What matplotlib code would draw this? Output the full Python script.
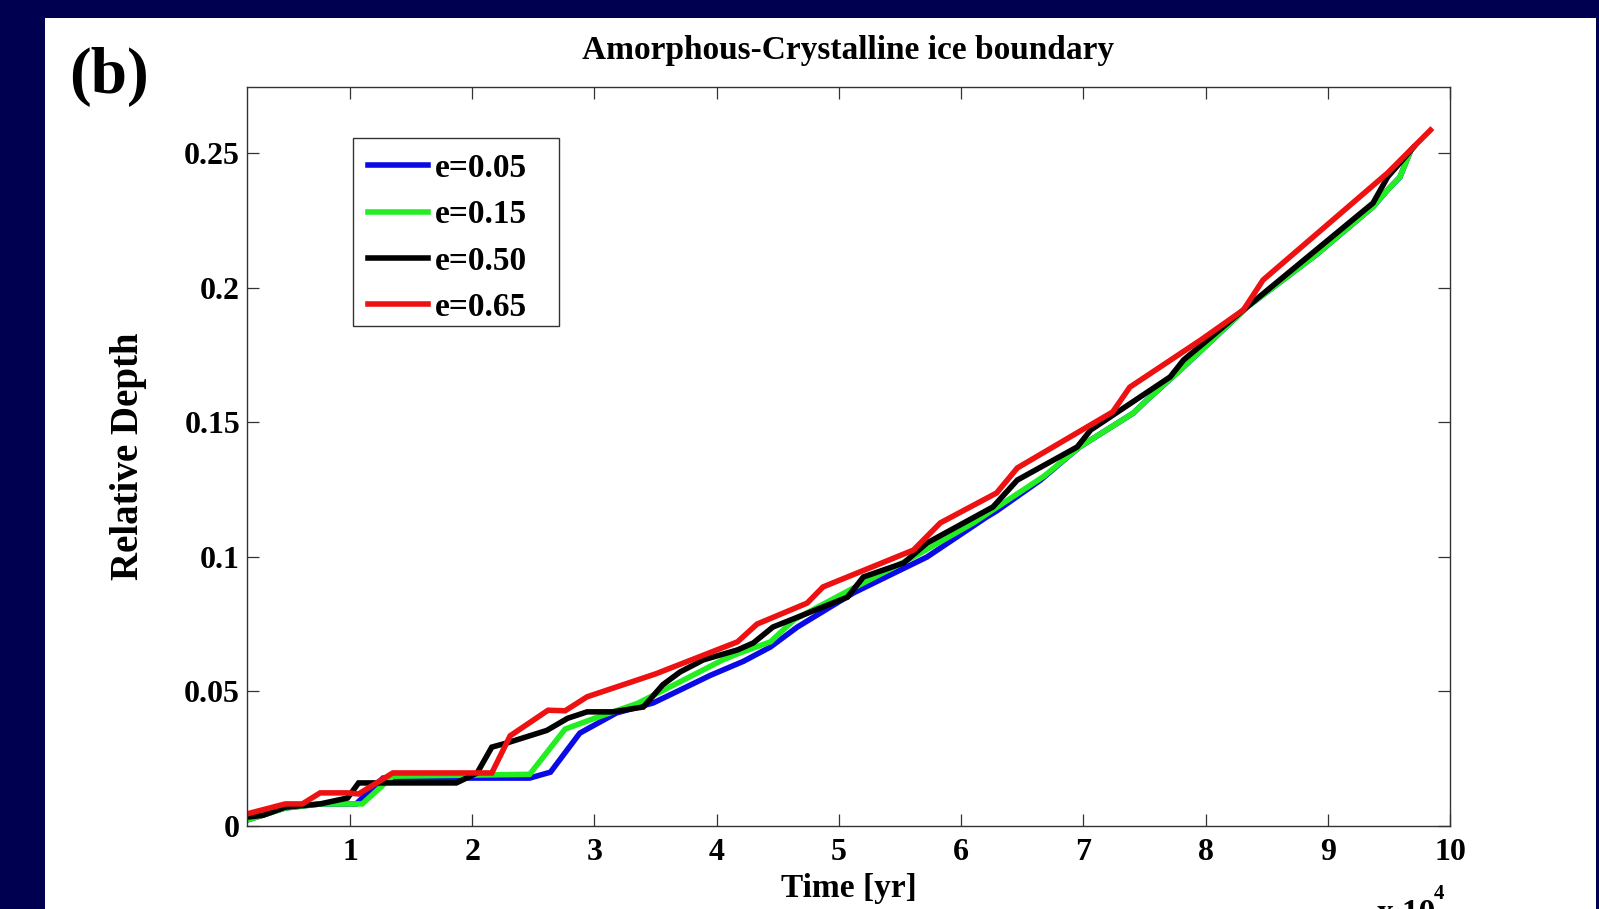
import matplotlib
matplotlib.use("Agg")
import matplotlib.pyplot as plt
from matplotlib.patches import Rectangle

plt.rcParams['font.family'] = ['Liberation Serif', 'DejaVu Serif']
plt.rcParams['font.weight'] = 'bold'

# Time in units of 10^4 yr, relative depth
blue_x = [0.157, 0.47, 0.76, 1.05, 1.27, 2.47, 2.64, 2.88, 3.18, 3.48, 3.70, 3.95, 4.22, 4.44,
          4.66, 5.12, 5.72, 6.21, 6.29, 6.65, 6.87, 6.97, 7.41, 7.52, 7.82, 8.23, 8.34, 8.9,
          9.37, 9.49, 9.59, 9.67]
blue_y = [0.0022, 0.0067, 0.0082, 0.0082, 0.0178, 0.0178, 0.0200, 0.0345, 0.0420, 0.0457, 0.0505,
          0.0560, 0.0612, 0.0665, 0.0739, 0.0866, 0.0999, 0.1148, 0.1170, 0.1285, 0.1370, 0.1408,
          0.1534, 0.1582, 0.1705, 0.1880, 0.1928, 0.2120, 0.2300, 0.2363, 0.2410, 0.2500]

green_x = [0.157, 0.47, 0.76, 1.10, 1.35, 2.47, 2.76, 3.00, 3.35, 3.68, 4.05, 4.19, 4.44, 4.63,
           5.09, 5.61, 6.10, 6.38, 6.68, 6.97, 7.41, 7.52, 7.82, 8.23, 8.34, 8.9, 9.37, 9.49,
           9.59, 9.67]
green_y = [0.0022, 0.0067, 0.0082, 0.0082, 0.0185, 0.0192, 0.0360, 0.0400, 0.0455, 0.0531, 0.0617,
           0.0643, 0.0684, 0.0765, 0.0877, 0.0999, 0.1126, 0.1210, 0.1300, 0.1408, 0.1534, 0.1582,
           0.1705, 0.1880, 0.1928, 0.2120, 0.2300, 0.2363, 0.2410, 0.2500]

black_x = [0.157, 0.29, 0.47, 0.755, 0.98, 1.07, 1.87, 2.04, 2.16, 2.28, 2.61, 2.78, 2.94, 3.15,
           3.40, 3.56, 3.70, 3.89, 4.17, 4.30, 4.46, 5.07, 5.20, 5.53, 5.72, 6.26, 6.46, 6.95,
           7.06, 7.71, 7.82, 8.31, 9.37, 9.49, 9.70]
black_y = [0.0033, 0.0040, 0.0070, 0.0082, 0.0104, 0.0160, 0.0160, 0.0197, 0.0293, 0.0308, 0.0355,
           0.0400, 0.0424, 0.0424, 0.0442, 0.0525, 0.0572, 0.0617, 0.0654, 0.0680, 0.0739, 0.0850,
           0.0925, 0.0977, 0.1051, 0.1185, 0.1285, 0.1408, 0.1471, 0.1668, 0.1731, 0.1917, 0.2314,
           0.2411, 0.2520]

red_x = [0.157, 0.47, 0.61, 0.755, 0.98, 1.07, 1.35, 2.16, 2.31, 2.62, 2.76, 2.94, 3.50, 4.17,
         4.33, 4.74, 4.87, 5.61, 5.83, 6.29, 6.46, 7.24, 7.38, 7.96, 8.31, 8.47, 9.49, 9.84]
red_y = [0.0045, 0.0082, 0.0082, 0.0123, 0.0123, 0.0119, 0.0197, 0.0197, 0.0335, 0.0430, 0.0428,
         0.0480, 0.0565, 0.0684, 0.0750, 0.0828, 0.0888, 0.1025, 0.1126, 0.1237, 0.1330, 0.1538,
         0.1630, 0.1805, 0.1917, 0.2028, 0.2426, 0.2585]

labels = ['e=0.05', 'e=0.15', 'e=0.50', 'e=0.65']
colors = ['#0a0ae6', '#22ee22', '#000000', '#ee1111']

xticks = [1, 2, 3, 4, 5, 6, 7, 8, 9, 10]
xticklabels = ['1', '2', '3', '4', '5', '6', '7', '8', '9', '10']
yticks = [0, 0.05, 0.1, 0.15, 0.2, 0.25]
yticklabels = ['0', '0.05', '0.1', '0.15', '0.2', '0.25']

W, H = 1599, 909
fig = plt.figure(figsize=(W / 100, H / 100), dpi=100)
fig.patch.set_facecolor('#000050')
fig.patches.append(Rectangle((45 / W, 0), (1596 - 45) / W, (H - 18) / H,
                             transform=fig.transFigure, facecolor='white',
                             edgecolor='none', zorder=-10))

AX_L, AX_T, AX_W, AX_H = 247, 87, 1203, 739
ax = fig.add_axes([AX_L / W, (H - AX_T - AX_H) / H, AX_W / W, AX_H / H])
ax.set_zorder(1)
for xs, ys, c, lab in zip([blue_x, green_x, black_x, red_x],
                          [blue_y, green_y, black_y, red_y], colors, labels):
    ax.plot(xs, ys, color=c, lw=4.0, label=lab, solid_joinstyle='miter')

ax.set_xlim(0.157, 10)
ax.set_ylim(0, 0.2745)
ax.set_xticks(xticks)
ax.set_xticklabels(xticklabels)
ax.set_yticks(yticks)
ax.set_yticklabels(yticklabels)
ax.tick_params(direction='in', length=8.6, width=0.9, top=True, right=True,
               labelsize=23, color='#333333')
ax.tick_params(axis='x', pad=9)
ax.tick_params(axis='y', pad=5)
for s in ax.spines.values():
    s.set_linewidth(1.0)
    s.set_color('#333333')

ax.set_xlabel('Time [yr]', fontsize=24, fontweight='bold')
ax.xaxis.set_label_coords(0.5, -0.0636)
ax.xaxis.label.set_va('top')
ax.set_ylabel('Relative Depth', fontsize=28, fontweight='bold')
ax.yaxis.set_label_coords(-0.0831, 0.5)
ax.yaxis.label.set_va('bottom')

ax.set_title('Amorphous-Crystalline ice boundary', fontsize=24, fontweight='bold', pad=20)

# legend box (frame drawn separately)
lx0, ly0, lx1, ly1 = 353, 138, 559, 326
ax.add_patch(Rectangle(((lx0 - AX_L) / AX_W, (AX_T + AX_H - ly1) / AX_H),
                       (lx1 - lx0) / AX_W, (ly1 - ly0) / AX_H, transform=ax.transAxes,
                       facecolor='white', edgecolor='#333333', lw=1.0, zorder=4))
leg = ax.legend(loc='upper left',
                bbox_to_anchor=((lx0 - AX_L) / AX_W, (AX_T + AX_H - ly0) / AX_H),
                borderaxespad=0, fontsize=24, frameon=False, handlelength=1.8,
                handletextpad=0.21, labelspacing=0.46, borderpad=0.45)
leg.set_zorder(5)

fig.text(69 / W, (H - 77) / H, '(b)', fontsize=47, fontweight='bold', ha='left', va='center')

fig.text(1377 / W, (H - 922) / H, 'x 10', fontsize=24, fontweight='bold', ha='left', va='baseline')
fig.text(1434 / W, (H - 899) / H, '4', fontsize=15, fontweight='bold', ha='left', va='baseline')

fig.savefig('out.png', dpi=100, facecolor=fig.get_facecolor())
